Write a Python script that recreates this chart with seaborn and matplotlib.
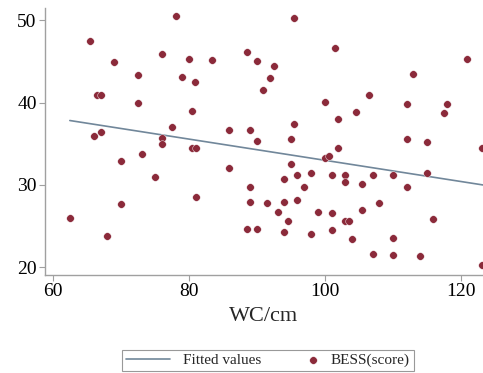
import matplotlib
matplotlib.use("Agg")
import matplotlib.pyplot as plt
import seaborn as sns
import numpy as np
import pandas as pd
from matplotlib.legend_handler import HandlerPathCollection

wc = [62.45, 65.4, 66.5, 67.0, 66.0, 67.0, 69.0, 72.45, 72.45, 69.95, 70.0, 67.9,
      72.99, 74.9, 76.0, 76.0, 76.0, 78.0, 77.5, 78.9, 79.95, 80.9, 80.4, 80.4, 81.0,
      81.0, 83.4, 85.9, 85.9,
      95.44, 88.43, 89.95, 92.4, 91.9, 90.9, 101.4, 99.9, 101.9, 104.5, 106.5, 111.96,
      112.9, 120.9, 117.9, 117.45, 88.97, 89.95, 95.44, 94.95, 101.9, 111.96, 114.95,
      123.1, 99.9, 100.5, 94.95, 95.9, 97.9, 93.97, 96.9, 100.98, 102.9, 102.9, 105.4,
      106.96, 109.96, 111.96, 114.95, 88.97, 88.97, 91.4, 93.97, 95.9, 93.0, 94.5,
      98.97, 100.98, 102.9, 103.5, 105.4, 107.9, 115.9, 88.43, 89.95, 93.97, 97.9,
      100.98, 104.0, 109.96, 106.96, 109.96, 113.97, 123.1]
bess = [26.0, 47.45, 40.96, 40.96, 36.0, 36.46, 44.98, 43.4, 40.0, 32.97, 27.7, 23.8,
        33.8, 31.0, 35.65, 35.0, 45.95, 50.57, 36.99, 43.15, 45.26, 42.54, 38.98, 34.5, 34.5,
        28.5, 45.18, 36.7, 32.1,
        50.29, 46.15, 45.1, 44.5, 43.0, 41.57, 46.68, 40.1, 38.0, 38.9, 40.88, 39.8,
        43.5, 45.3, 39.8, 38.7, 36.7, 35.4, 37.4, 35.6, 34.5, 35.6, 35.16,
        34.5, 33.26, 33.54, 32.6, 31.19, 31.4, 30.7, 29.8, 31.19, 31.19, 30.4, 30.1,
        31.19, 31.19, 29.7, 31.4, 29.8, 27.98, 27.8, 27.9, 28.2, 26.7, 25.6,
        26.7, 26.57, 25.6, 25.6, 27.0, 27.8, 25.9, 24.6, 24.7, 24.3, 24.0,
        24.5, 23.4, 23.6, 21.6, 21.5, 21.34, 20.3]
fit_x = [62.45, 123.2]
fit_y = [37.83, 30.0]
x_ticks = [60, 80, 100, 120]
y_ticks = [20, 30, 40, 50]

sns.set_theme(style="white")
plt.rcParams['font.family'] = ['Liberation Serif', 'DejaVu Serif']

df = pd.DataFrame({"WC": wc, "BESS": bess})
fit = pd.DataFrame({"x": fit_x, "y": fit_y})

fig = plt.figure(figsize=(4.83, 3.73), dpi=100)
ax = fig.add_axes([45/483, 1-275/373, 1-45/483, (275-8)/373])

sns.lineplot(data=fit, x="x", y="y", ax=ax, color="#71879a", linewidth=1.2,
             label="Fitted values", legend=False)
sns.scatterplot(data=df, x="WC", y="BESS", ax=ax, color="#8b2a3a", s=30,
                edgecolor="white", linewidth=0.3, label="BESS(score)", legend=False,
                clip_on=True, zorder=3)

ax.set_xlim(58.8, 123.2)
ax.set_ylim(19.06, 51.5)
ax.set_xticks(x_ticks)
ax.set_yticks(y_ticks)
ax.tick_params(axis="both", which="major", bottom=True, left=True, direction="out",
               length=4, width=0.8, color="#a0a0a0",
               labelsize=14, labelcolor="black", pad=2)
for s in ["top", "right"]:
    ax.spines[s].set_visible(False)
for s in ["left", "bottom"]:
    ax.spines[s].set_color("#a0a0a0")
    ax.spines[s].set_linewidth(1.0)
ax.set_xlabel("WC/cm", fontsize=16, labelpad=5)
ax.set_ylabel("")


class RightDot(HandlerPathCollection):
    def get_xdata(self, legend, xdescent, ydescent, width, height, fontsize):
        x = [-xdescent + width - 0.35 * fontsize]
        return x, x


handles, labels = ax.get_legend_handles_labels()
leg = fig.legend(handles, labels, loc="center", bbox_to_anchor=(268/483, 1-360.5/373),
                 ncol=2, frameon=True, fancybox=False, fontsize=11, handlelength=2.9,
                 columnspacing=0.8, borderpad=0.25, handletextpad=0.85, edgecolor="#808080",
                 handler_map={type(handles[1]): RightDot()})
leg.get_frame().set_linewidth(0.8)

fig.savefig("out.png", dpi=100)
